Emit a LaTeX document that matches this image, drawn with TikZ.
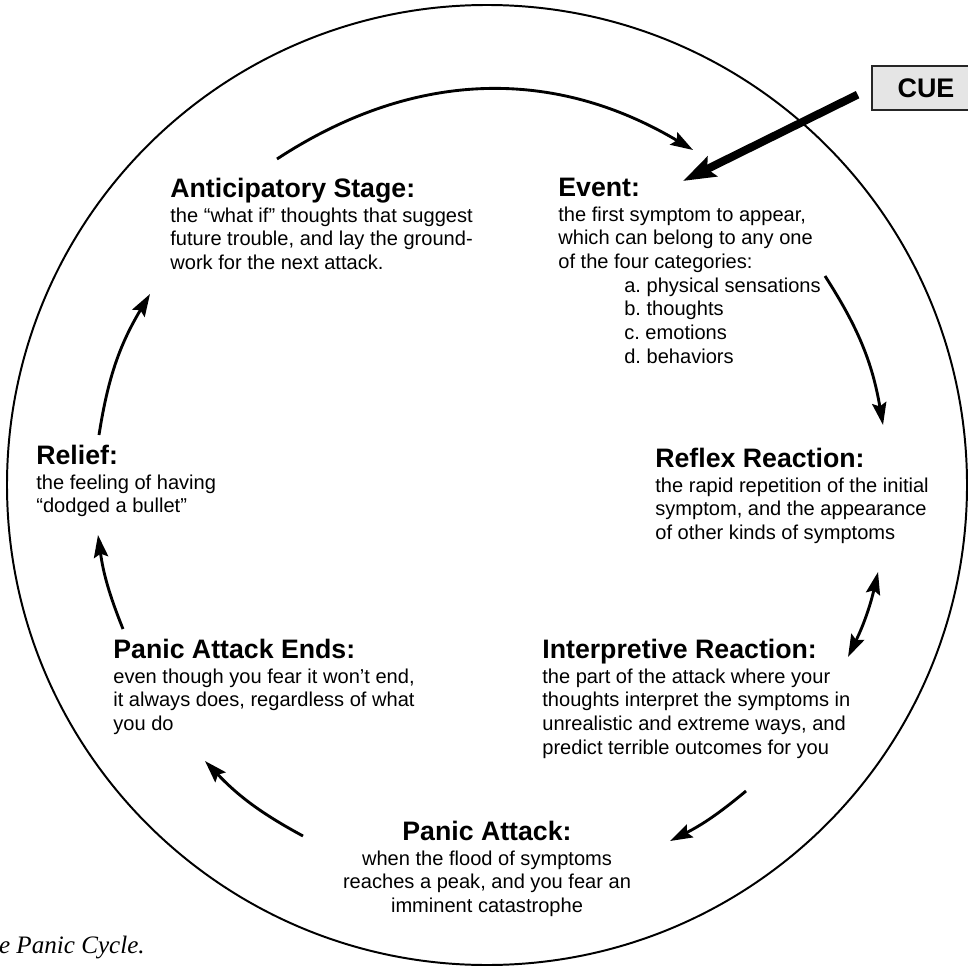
\documentclass[tikz,border=0pt]{standalone}
\usepackage{fontspec}
\setmainfont{Liberation Sans}
\newfontfamily\captionfont{Liberation Serif}
\usetikzlibrary{arrows.meta}
\frenchspacing
\def\catindent{\hspace*{36.8pt}}
\def\stagefont{\fontsize{11.2}{13.2}\selectfont\lineskiplimit=-20pt\relax}
\def\stagehead#1{{\fontsize{14.9}{16}\selectfont\bfseries #1}\\[0.5pt]}
\tikzset{
  stage/.style={anchor=north west, align=left, inner sep=0pt, font=\stagefont},
  rim/.style={line width=1.1pt},
  cyclearrow/.style={line width=1.6pt, >={Stealth[length=12.5pt,width=8pt,inset=2pt]}},
  cuebox/.style={draw=black!85, fill=black!10, line width=1pt, minimum width=60.3pt, minimum height=24.6pt, font=\fontsize{15}{17}\selectfont\bfseries},
  cuearrow/.style={line width=4.5pt, -{Stealth[length=18pt,width=12pt,inset=3pt]}}
}
\begin{document}
\begin{tikzpicture}[x=0.558pt,y=0.558pt]
\useasboundingbox (0,0) rectangle (968,965);
\draw[rim] (487,480) circle (480);
% stages of the cycle
\node[stage] (ant) at (170,787.1) {\stagehead{Anticipatory Stage:}the “what if” thoughts that suggest\\future trouble, and lay the ground-\\work for the next attack.};
\node[stage] (event) at (558,787.1) {\stagehead{Event:}the first symptom to appear,\\which can belong to any one\\of the four categories:\\\catindent a. physical sensations\\\catindent b. thoughts\\\catindent c. emotions\\\catindent d. behaviors};
\node[stage] (reflex) at (655,517.1) {\stagehead{Reflex Reaction:}the rapid repetition of the initial\\symptom, and the appearance\\of other kinds of symptoms};
\node[stage] (relief) at (36,520.1) {\stagehead{Relief:}the feeling of having\\“dodged a bullet”};
\node[stage] (ends) at (113,326.1) {\stagehead{Panic Attack Ends:}even though you fear it won’t end,\\it always does, regardless of what\\you do};
\node[stage] (interp) at (542,326.1) {\stagehead{Interpretive Reaction:}the part of the attack where your\\thoughts interpret the symptoms in\\unrealistic and extreme ways, and\\predict terrible outcomes for you};
\node[stage, anchor=north, align=center] (attack) at (487,144.1) {\stagehead{Panic Attack:}when the flood of symptoms\\reaches a peak, and you fear an\\imminent catastrophe};
% arrows between the stages
\coordinate (v1) at (277,806);
\coordinate (v2) at (693,815);
\draw[cyclearrow,->] (v1) to[bend left=32] (v2);
\coordinate (v3) at (825,689);
\coordinate (v4) at (883,540);
\draw[cyclearrow,->] (v3) to[bend left=11.5] (v4);
\coordinate (v5) at (878,393);
\coordinate (v6) at (848,308);
\draw[cyclearrow,<->] (v5) to[bend left=6.5] (v6);
\coordinate (v7) at (746,174);
\coordinate (v8) at (670,124);
\draw[cyclearrow,->] (v7) to[bend left=6.5] (v8);
\coordinate (v9) at (303,129);
\coordinate (v10) at (205,204);
\draw[cyclearrow,->] (v9) to[bend left=9] (v10);
\coordinate (v11) at (123,336);
\coordinate (v12) at (98,430);
\draw[cyclearrow,->] (v11) to[bend left=7] (v12);
\coordinate (v13) at (99,530);
\coordinate (v14) at (150,671);
\draw[cyclearrow,->] (v13) to[bend left=11] (v14);
% cue
\node[cuebox] (cue) at (926,877) {CUE};
\coordinate (v15) at (683,784);
\draw[cuearrow, shorten <=8.4pt] (cue.west) -- (v15);
\node[anchor=base east, inner sep=0pt, font=\captionfont\itshape\fontsize{14}{16}\selectfont] (caption) at (145,12) {e Panic Cycle.};
\end{tikzpicture}
\end{document}
